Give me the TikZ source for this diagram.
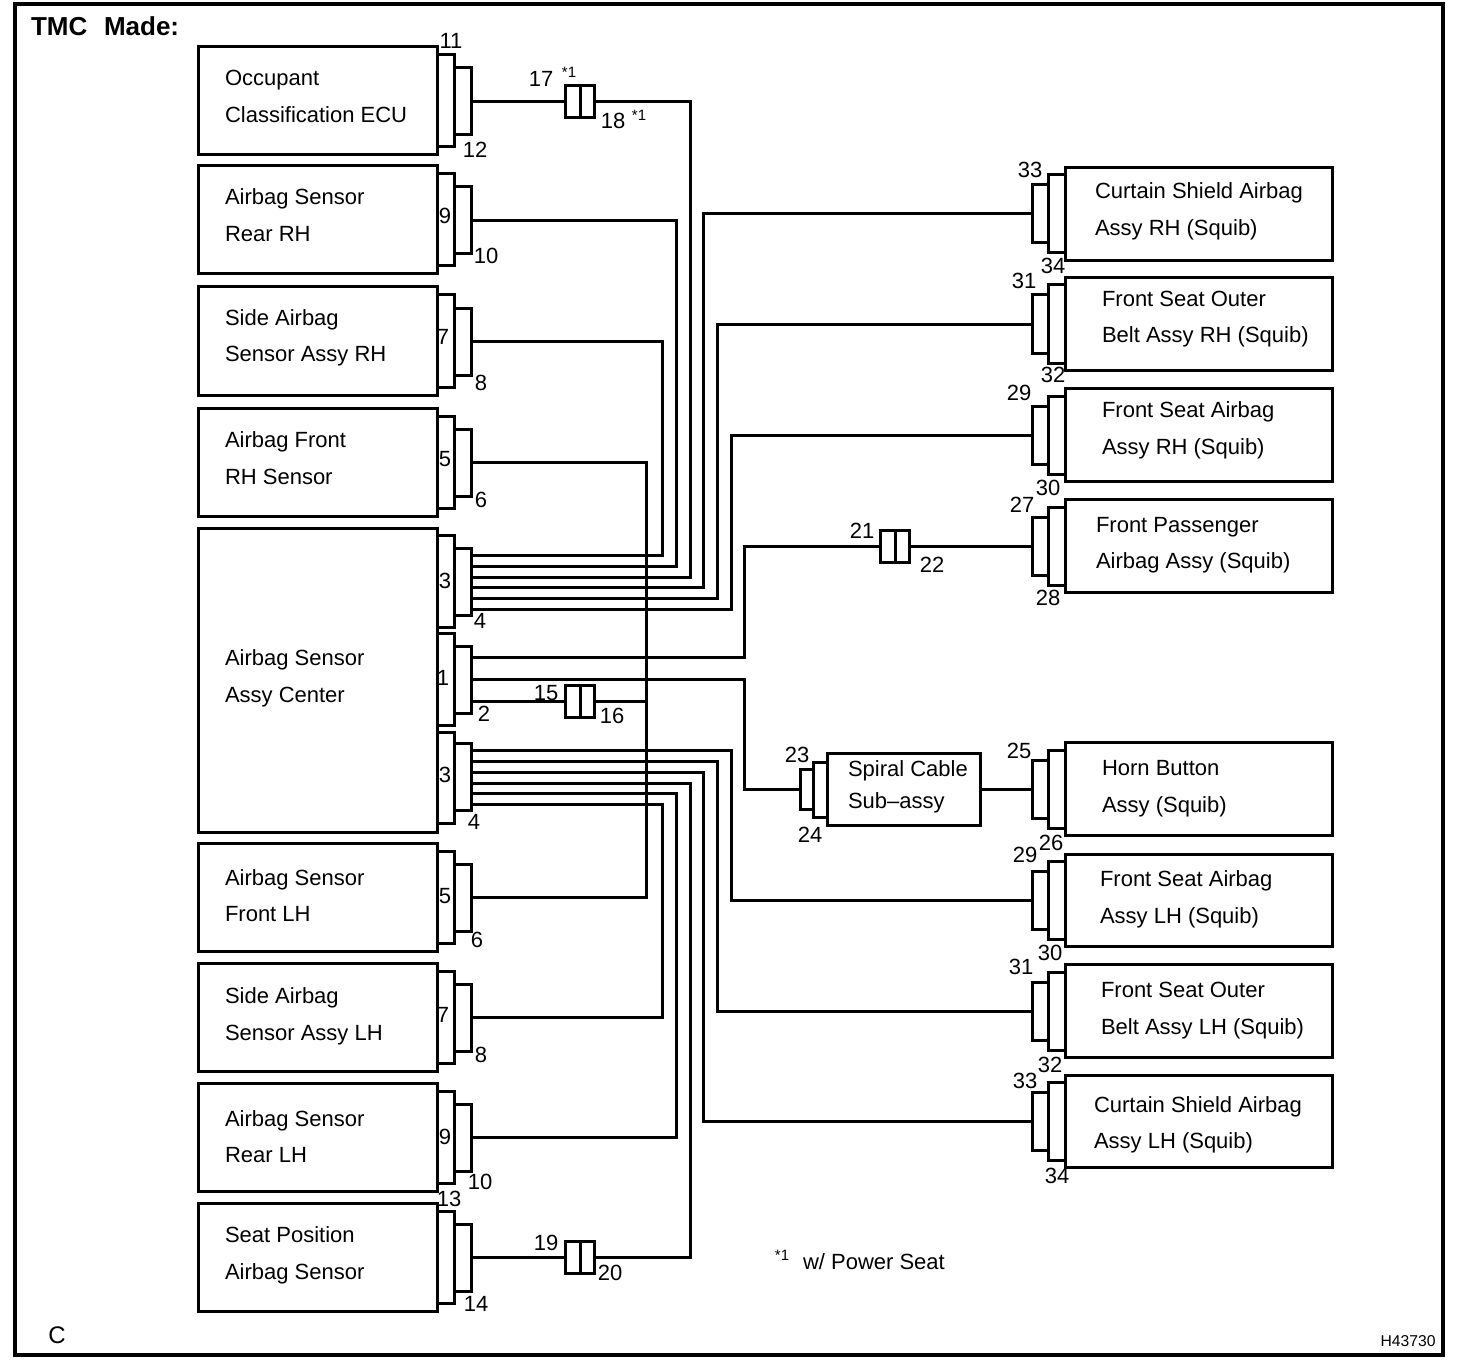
\documentclass[tikz,border=0pt]{standalone}
\usepackage{fontspec}
\setmainfont{Liberation Sans}
\tikzset{
  base/.style={inner sep=0pt,outer sep=0pt},
  unitbox/.style={base,draw,line width=3pt,minimum width=239pt,minimum height=108pt},
  sidebox/.style={base,draw,line width=3pt,minimum width=267pt,minimum height=92.5pt},
  shell/.style={base,draw,line width=3pt,minimum width=17pt},
  joint/.style={base,draw,line width=3pt,minimum width=14.5pt,minimum height=32pt},
  wire/.style={line width=3pt,line join=miter},
  caption/.style={base,anchor=west,align=left,font=\fontsize{22}{36.5}\selectfont},
  pinno/.style={base,font=\fontsize{22}{24}\selectfont},
  note/.style={base,font=\fontsize{15}{16}\selectfont}
}
\begin{document}
\begin{tikzpicture}[x=1pt,y=-1pt]
\useasboundingbox (0,0) rectangle (1472,1364);
% Draw frame
\node[base,draw,line width=4pt,minimum width=1428pt,minimum height=1351pt] (frame) at (729,679.5) {};
\node[base,anchor=west,font=\bfseries\fontsize{26}{28}\selectfont] (title) at (31,26) {TMC\hspace{9.5pt} Made:};
% Draw units on the left with their plugs
\foreach \unit/\top in {occ/47,rearR/166,sideR/287,frontR/408,frontL/843,sideL/963,rearL/1083,seat/1203}{
  \node[unitbox] (\unit) at (317.5,\top+54) {};
  \node[shell,minimum height=92pt] (\unit A) at (445.5,\top+54) {};
  \node[shell,minimum height=67pt] (\unit B) at (463,\top+54.5) {};
}
\foreach \unit/\xpos/\ypos/\txt in {occ/225/96.5/{Occupant\\Classification ECU},
    rearR/225/215/{Airbag Sensor\\Rear RH},
    sideR/225/338/{Side Airbag\\Sensor Assy RH},
    frontR/225/458/{Airbag Front\\RH Sensor},
    center/225/678.5/{Airbag Sensor\\Assy Center},
    frontL/225/895.5/{Airbag Sensor\\Front LH},
    sideL/225/1016.5/{Side Airbag\\Sensor Assy LH},
    rearL/225/1136.5/{Airbag Sensor\\Rear LH},
    seat/225/1255.5/{Seat Position\\Airbag Sensor}}{
  \node[caption] (\unit T) at (\xpos,\ypos) {\txt};
}
% Draw center unit
\node[unitbox,minimum height=304pt] (center) at (317.5,680) {};
\node[shell,minimum height=92pt] (upA) at (445.5,581) {};
\node[shell,minimum height=67pt] (upB) at (463,581.5) {};
\node[shell,minimum height=92pt] (midA) at (445.5,679) {};
\node[shell,minimum height=67pt] (midB) at (463,679.5) {};
\node[shell,minimum height=91pt] (lowA) at (445.5,777.5) {};
\node[shell,minimum height=67pt] (lowB) at (463,776.5) {};
% Draw units on the right with their plugs
\foreach \unit/\top in {curtR/168,beltR/278,seatR/389,pass/500,horn/743,seatL/854.5,beltL/965,curtL/1075.5}{
  \node[sidebox] (\unit) at (1198.5,\top+46) {};
  \node[shell,minimum height=78pt] (\unit A) at (1056.5,\top+46) {};
  \node[shell,minimum width=16pt,minimum height=58pt] (\unit B) at (1040,\top+46) {};
}
\foreach \unit/\xpos/\ypos/\txt in {curtR/1095/211.5/{Curtain Shield Airbag\\Assy RH (Squib)},
    beltR/1102/319/{Front Seat Outer\\Belt Assy RH (Squib)},
    seatR/1102/430.5/{Front Seat Airbag\\Assy RH (Squib)},
    pass/1096/545/{Front Passenger\\Airbag Assy (Squib)},
    horn/1102/788.5/{Horn Button\\Assy (Squib)},
    seatL/1100/899.5/{Front Seat Airbag\\Assy LH (Squib)},
    beltL/1101/1010.5/{Front Seat Outer\\Belt Assy LH (Squib)},
    curtL/1094/1125/{Curtain Shield Airbag\\Assy LH (Squib)}}{
  \node[caption] (\unit T) at (\xpos,\ypos) {\txt};
}
% Draw spiral cable
\node[base,draw,line width=3pt,minimum width=153pt,minimum height=72pt] (spiral) at (903.5,789) {};
\node[shell,minimum width=14pt,minimum height=55pt] (spiralA) at (820,789.5) {};
\node[shell,minimum width=13pt,minimum height=40pt] (spiralB) at (806.5,789) {};
\node[caption,font=\fontsize{22}{32}\selectfont] (spiralT) at (848,787) {Spiral Cable\\Sub--assy};
% Draw inline joints
\foreach \joint/\xpos/\ypos in {a/580/101.5,b/895/546,c/580/701,d/580/1257.5}{
  \node[joint] (\joint L) at (\xpos-7.25,\ypos) {};
  \node[joint] (\joint R) at (\xpos+7.25,\ypos) {};
}
% Wire ends on the center plugs
\foreach \pt/\ypos in {up1/555,up2/566,up3/577,up4/587.5,up5/598,up6/609,
    mid1/657.5,mid2/679,mid3/701,
    low1/750,low2/761,low3/772,low4/783,low5/793.5,low6/804}{
  \coordinate (\pt) at (471.5,\ypos);
}
% Vertical runs
\coordinate (runO) at (646,680);
\foreach \pt/\xpos in {runA/662,runB/676,runC/690,runD/703,runE/717,runF/731,runG/744.5}{
  \coordinate (\pt) at (\xpos,680);
}
% Draw wires to the upper half
\draw[wire] (up1) -| (runA |- sideRB.east) -- (sideRB.east);
\draw[wire] (up2) -| (runB |- rearRB.east) -- (rearRB.east);
\draw[wire] (up3) -| (runC |- aR.east) -- (aR.east);
\draw[wire] (occB.east |- aL.west) -- (aL.west);
\draw[wire] (up4) -| (runD |- curtRB.west) -- (curtRB.west);
\draw[wire] (up5) -| (runE |- beltRB.west) -- (beltRB.west);
\draw[wire] (up6) -| (runF |- seatRB.west) -- (seatRB.west);
% Draw middle wires
\draw[wire] (mid1) -| (runG |- bL.west) -- (bL.west);
\draw[wire] (bR.east) -- (passB.west);
\draw[wire] (mid2) -| (runG |- spiralB.west) -- (spiralB.west);
\draw[wire] (spiral.east |- hornB.west) -- (hornB.west);
\draw[wire] (mid3) -- (cL.west);
\draw[wire] (cR.east) -- (runO |- cR.east);
\draw[wire] (frontRB.east) -| (runO |- frontLB.east) -- (frontLB.east);
% Draw wires to the lower half
\draw[wire] (low1) -| (runF |- seatLB.west) -- (seatLB.west);
\draw[wire] (low2) -| (runE |- beltLB.west) -- (beltLB.west);
\draw[wire] (low3) -| (runD |- curtLB.west) -- (curtLB.west);
\draw[wire] (low4) -| (runC |- dR.east) -- (dR.east);
\draw[wire] (seatB.east) -- (dL.west);
\draw[wire] (low5) -| (runB |- rearLB.east) -- (rearLB.east);
\draw[wire] (low6) -| (runA |- sideLB.east) -- (sideLB.east);
% Pin numbers
\foreach \xpos/\ypos/\num [count=\i] in {451/41/11,475/150/12,541/79/17,613/121/18,
    445/216/9,486/256/10,443/337/7,481/383/8,445/459/5,481/500/6,
    445/581/3,480/621/4,443/678/1,484/714/2,546/693/15,612/716/16,445/775/3,474/822/4,
    445/896/5,477/940/6,443/1015/7,481/1055/8,445/1137/9,480/1182/10,449/1199/13,476/1304/14,
    546/1243/19,610/1273/20,
    1030/170/33,1053/266/34,1024/281/31,1053/375/32,1019/393/29,1048/488/30,1022/505/27,1048/598/28,
    862/531/21,932/565/22,797/755/23,810/835/24,1019/751/25,1051/843/26,
    1025/855/29,1050/953/30,1021/967/31,1050/1065/32,1025/1081/33,1057/1176/34}{
  \node[pinno] (pin\i) at (\xpos,\ypos) {\num};
}
% Notes
\node[note] (noteA) at (569,72) {*1};
\node[note] (noteB) at (639,115) {*1};
\node[note] (noteC) at (782,1255) {*1};
\node[caption] (power) at (803,1262) {w/ Power Seat};
\node[base,font=\fontsize{24}{26}\selectfont] (corner) at (57,1335) {C};
\node[base,font=\fontsize{15.7}{17}\selectfont] (code) at (1408,1341) {H43730};
\end{tikzpicture}
\end{document}
